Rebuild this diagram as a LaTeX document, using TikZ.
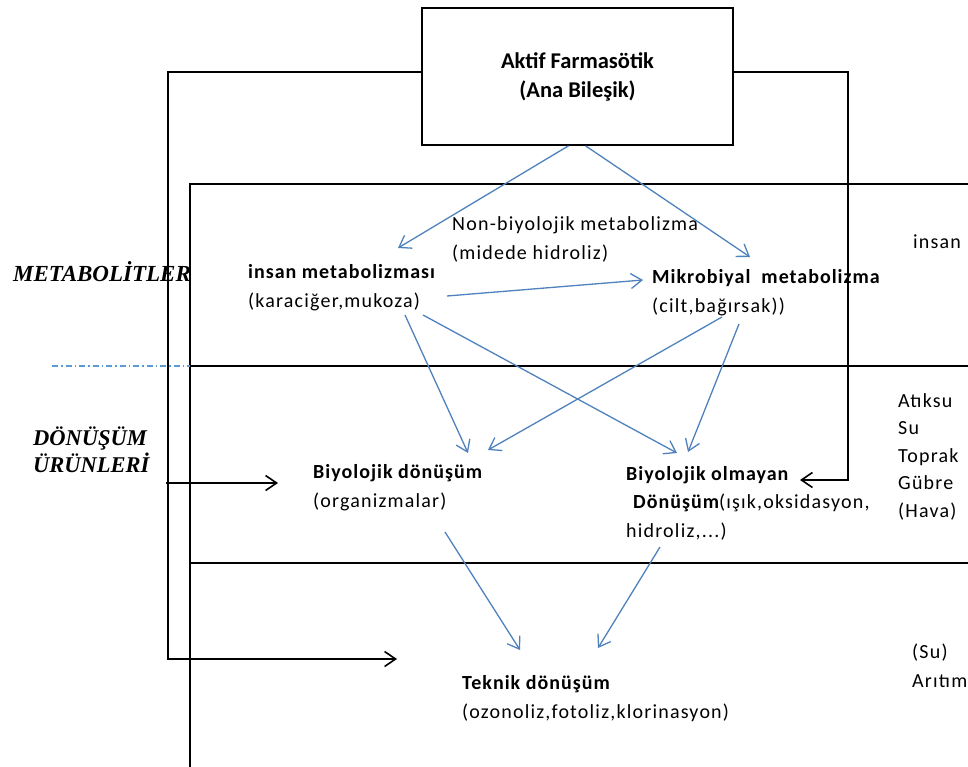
\documentclass[tikz,border=0pt]{standalone}
\usepackage{fontspec}
\setmainfont{Carlito}[LetterSpace=6, BoldFeatures={LetterSpace=5}]
\newfontfamily\titlefont{Carlito}
\newfontfamily\labelserif{Liberation Serif}
\usetikzlibrary{arrows.meta}
\definecolor{flowblue}{RGB}{79,129,189}
\definecolor{dashblue}{RGB}{91,155,213}
\newcommand\hd[1]{{\fontsize{20}{28.5}\selectfont\bfseries #1}}

\begin{document}
\begin{tikzpicture}[x=1pt,y=-1pt,
  frame/.style={draw=black, line width=1.6pt},
  loopline/.style={draw=black, line width=1.6pt, -{Straight Barb[length=11pt,width=15pt]}},
  flow/.style={draw=flowblue, line width=1.3pt, -{Straight Barb[length=11pt,width=15pt]}},
  txt/.style={anchor=base west, align=left, inner sep=0pt, font=\fontsize{20}{28.5}\selectfont},
  side/.style={anchor=base west, align=left, inner sep=0pt, font=\labelserif\fontsize{23}{27}\selectfont\bfseries\itshape}]
\useasboundingbox (0,0) rectangle (968,767);

% compartment frame
\draw[frame] (190,767) -- (190,184) -- (968,184);
\draw[frame] (190,366) -- (968,366);
\draw[frame] (190,563) -- (968,563);
\draw[dashblue, line width=1.2pt, dash pattern=on 6pt off 3pt on 1.5pt off 3pt] (52,366) -- (190,366);

% parent compound
\node[draw, line width=1.6pt, fill=white, minimum width=311pt, minimum height=137pt, inner sep=0pt,
      align=center, font=\titlefont\fontsize{22.5}{29}\selectfont\bfseries] (api) at (577.5,76.5)
      {Aktif Farmasötik\\(Ana Bileşik)};

% side labels (anchored on the last line)
\node[side] (met) at (13,281) {METABOLİTLER};
\node[side, font=\labelserif\fontsize{22.5}{27}\selectfont\bfseries\itshape] (don) at (33,472) {DÖNÜŞÜM\\ÜRÜNLERİ};

% process nodes (anchored on the baseline of their last line)
\node[txt] (nonbm) at (452,259) {Non-biyolojik metabolizma\\(midede hidroliz)};
\node[txt] (ins) at (248,307) {\hd{insan metabolizması}\\(karaciğer,mukoza)};
\node[txt] (mik) at (652,312) {\hd{Mikrobiyal\ \ metabolizma}\\(cilt,bağırsak))};
\node[txt] (bio) at (313,507) {\hd{Biyolojik dönüşüm}\\(organizmalar)};
\node[txt] (nbio) at (626,537) {\hd{Biyolojik olmayan}\\\hspace*{7pt}\hd{Dönüşüm}(ışık,oksidasyon,\\hidroliz,...)};
\node[txt] (tek) at (462,718) {\hd{Teknik dönüşüm}\\(ozonoliz,fotoliz,klorinasyon)};

% compartments on the right
\node[txt] (insan) at (913,248) {insan};
\node[txt, font=\fontsize{20}{27.5}\selectfont] (env) at (898,517) {Atıksu\\Su\\Toprak\\Gübre\\(Hava)};
\node[txt, font=\fontsize{20}{29}\selectfont] (treat) at (912,687) {(Su)\\Arıtım};

% loop corners and free ends
\coordinate (lcorner) at (168,659);
\coordinate (rcorner) at (848,480);
\coordinate (lentry) at (166,483);

% pathways
\draw[flow] ([xshift=-9pt]api.south) -- ([shift={(150,-59)}]ins.base west);
\draw[flow] ([xshift=8pt]api.south) -- ([shift={(98,-55)}]mik.base west);
\draw[flow] ([shift={(199,-11)}]ins.base west) -- ([shift={(-9,-32)}]mik.base west);
\draw[flow] ([shift={(157,8)}]ins.base west) -- ([shift={(155,-54)}]bio.base west);
\draw[flow] ([shift={(175,8)}]ins.base west) -- ([shift={(51,-84)}]nbio.base west);
\draw[flow] ([shift={(70,5)}]mik.base west) -- ([shift={(175,-57)}]bio.base west);
\draw[flow] ([shift={(87,12)}]mik.base west) -- ([shift={(62,-85)}]nbio.base west);
\draw[flow] ([shift={(132,25)}]bio.base west) -- ([shift={(58,-68)}]tek.base west);
\draw[flow] ([shift={(34,10)}]nbio.base west) -- ([shift={(136,-70)}]tek.base west);

% direct routes of the parent compound
\draw[loopline] ([yshift=4.5pt]api.west) -| (lcorner) -- ([shift={(-65,-59)}]tek.base west);
\draw[loopline] ([yshift=4.5pt]api.east) -| (rcorner) -- ([shift={(174,-57)}]nbio.base west);
\draw[loopline] (lentry) -- ([shift={(-35,-24)}]bio.base west);
\end{tikzpicture}
\end{document}
